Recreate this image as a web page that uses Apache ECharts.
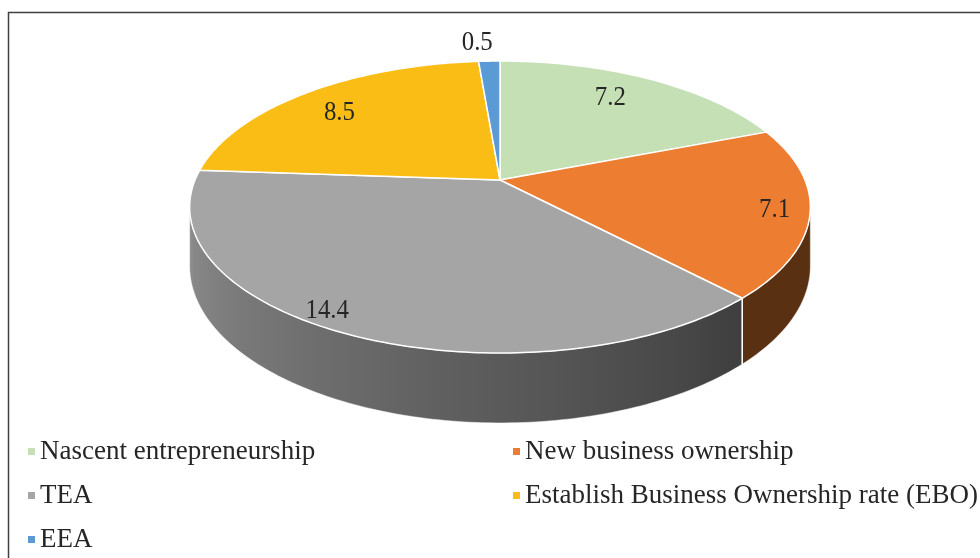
<!DOCTYPE html>
<html>
<head>
<meta charset="utf-8">
<title>3D pie</title>
<script src="https://cdn.jsdelivr.net/npm/echarts@6/dist/echarts.min.js"></script>
<style>
  html, body { margin: 0; padding: 0; background: #fff; }
  #chart { width: 980px; height: 558px; }
</style>
</head>
<body>
<div id="chart"></div>
<script>
// data
const categories = [
  'Nascent entrepreneurship',
  'New business ownership',
  'TEA',
  'Establish Business Ownership rate (EBO)',
  'EEA'
]
const values = [7.2, 7.1, 14.4, 8.5, 0.5]

// styles
const colors = ['#c5e0b4', '#ed7d31', '#a5a5a5', '#f9bd16', '#5b9bd5']
const labelR = [0.77, 0.89, 0.93, 0.78, 1.19]     // label distance (fraction of radius)
const labelShift = [-2.6, 0.6, 6, -2.4, -2]       // label angle tweak, degrees

// projection of the tilted disc (perspective-ish)
const cx = 500, cy = 180, A = 305, B = 141, K = 0.185, DEPTH = 57
const proj = (phi, r, h) => {
  const rad = phi * Math.PI / 180
  const u = r * Math.sin(rad), v = r * Math.cos(rad)
  const d = 1 + K * v
  return [cx + A * u / d, cy - B * v / d + (h || 0) / d]
}
const wallFrom = Math.acos(-K) * 180 / Math.PI   // ~100.7
const wallTo = 360 - wallFrom                    // ~259.3

const total = values.reduce((s, v) => s + v, 0)
const startAngles = []
let acc = 0
values.forEach(v => { startAngles.push(acc / total * 360); acc += v })

const shade = (hex, f) => {
  const n = parseInt(hex.slice(1), 16)
  const c = [(n >> 16) & 255, (n >> 8) & 255, n & 255].map(x => Math.round(x * f))
  return 'rgb(' + c.join(',') + ')'
}
const wallFactor = phi => Math.min(0.9, Math.max(0.38, 0.38 + (phi - 137) * 0.0039))

const buildSlice = (i, api) => {
  const a0 = startAngles[i]
  const a1 = a0 + values[i] / total * 360
  const children = []

  // side wall (front half only), one polygon with a horizontal gradient
  const w0 = Math.max(a0, wallFrom), w1 = Math.min(a1, wallTo)
  if (w1 > w0) {
    const steps = Math.ceil((w1 - w0) / 1)
    const topPts = [], botPts = []
    for (let s = 0; s <= steps; s++) {
      const p = w0 + (w1 - w0) * s / steps
      topPts.push(proj(p, 1, 0))
      botPts.push(proj(p, 1, DEPTH))
    }
    const xR = topPts[0][0], xL = topPts[steps][0]
    const stops = []
    for (let s = steps; s >= 0; s -= Math.max(1, Math.floor(steps / 12))) {
      const p = w0 + (w1 - w0) * s / steps
      stops.push({ offset: Math.min(1, Math.max(0, (topPts[s][0] - xL) / (xR - xL))), color: shade(colors[i], wallFactor(p)) })
    }
    stops.push({ offset: 1, color: shade(colors[i], wallFactor(w0)) })
    children.push({
      type: 'polygon',
      z2: 1,
      shape: { points: topPts.concat(botPts.reverse()) },
      style: {
        fill: { type: 'linear', x: xL, y: 0, x2: xR, y2: 0, global: true, colorStops: stops },
        stroke: 'rgba(255,255,255,0.6)', lineWidth: 0.8
      }
    })
    // seams at slice edges
    ;[a0, a1].forEach(p => {
      if (p > wallFrom && p < wallTo) {
        const t = proj(p, 1, 0), b = proj(p, 1, DEPTH)
        children.push({
          type: 'line', z2: 2,
          shape: { x1: t[0], y1: t[1], x2: b[0], y2: b[1] },
          style: { stroke: '#ffffff', lineWidth: 1.2 }
        })
      }
    })
  }

  // top face
  const pts = [proj(0, 0, 0)]
  const n = Math.max(2, Math.ceil(a1 - a0))
  for (let s = 0; s <= n; s++) pts.push(proj(a0 + (a1 - a0) * s / n, 1, 0))
  children.push({
    type: 'polygon',
    z2: 10,
    shape: { points: pts },
    style: { fill: api.visual('color'), stroke: '#ffffff', lineWidth: 1.5, lineJoin: 'round' }
  })

  // value label
  const mid = (a0 + a1) / 2 + labelShift[i]
  const lp = proj(mid, labelR[i], 0)
  children.push({
    type: 'text',
    z2: 30,
    x: lp[0], y: lp[1],
    scaleX: 0.92,
    style: {
      text: String(values[i]),
      x: 0, y: 0,
      align: 'center', verticalAlign: 'middle',
      fontFamily: 'Liberation Serif', fontSize: 27,
      fill: '#262626'
    }
  })
  return { type: 'group', children }
}

const chart = echarts.init(document.getElementById('chart'))

const legendBase = {
  orient: 'vertical',
  top: 438,
  padding: 0,
  icon: 'rect',
  itemWidth: 7,
  itemHeight: 7,
  itemGap: 17,
  itemTextGap: 10,
  textStyle: { fontFamily: 'Liberation Serif', fontSize: 27, color: '#262626', lineHeight: 27 }
}

const option = {
  animation: false,
  graphic: [{
    type: 'rect',
    shape: { x: 8.5, y: 12.5, width: 1000, height: 600 },
    style: { fill: 'none', stroke: '#404040', lineWidth: 1.5 }
  }],
  legend: [
    Object.assign({}, legendBase, { left: 28, data: [categories[0], categories[2], categories[4]] }),
    Object.assign({}, legendBase, { left: 513, data: [categories[1], categories[3]] })
  ],
  series: categories.map((name, i) => ({
    type: 'custom',
    name,
    coordinateSystem: 'none',
    itemStyle: { color: colors[i] },
    data: [[values[i]]],
    renderItem: (params, api) => buildSlice(i, api)
  }))
}

chart.setOption(option)
window.addEventListener('resize', () => chart.resize())
</script>
</body>
</html>
